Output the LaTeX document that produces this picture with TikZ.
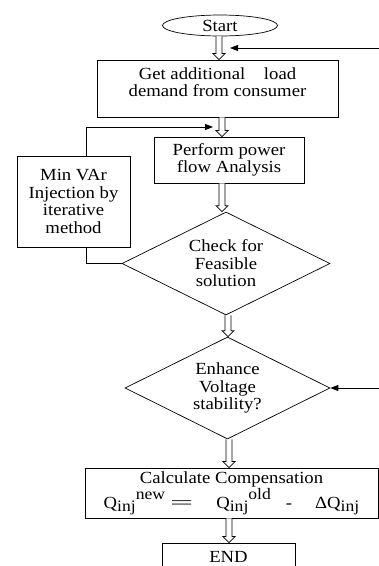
\documentclass[tikz,border=0pt]{standalone}
\usepackage{graphicx}
\usepackage{fontspec}
\setmainfont[FakeStretch=1.1]{Liberation Serif}
\usetikzlibrary{shapes.geometric,arrows.meta,calc}
\newcommand{\harrow}[3]{%
  \draw[hollowarr] let \p1=(#2), \p2=(#3) in
  (#1pt-3pt,\y1) -- (#1pt-3pt,\y2+6pt) -- (#1pt-6pt,\y2+6pt) -- (#1pt,\y2)
  -- (#1pt+6pt,\y2+6pt) -- (#1pt+3pt,\y2+6pt) -- (#1pt+3pt,\y1);}
\newcommand{\lowtx}[1]{\raisebox{-3pt}{\fontsize{16}{16}\selectfont #1}}
\newcommand{\hightx}[1]{\raisebox{9pt}{\fontsize{16}{16}\selectfont #1}}
\begin{document}
\begin{tikzpicture}[x=1pt,y=-1pt,
  every node/.style={font=\fontsize{17}{17.5}\selectfont, align=center, inner sep=0pt},
  box/.style={draw, line width=0.9pt},
  dia/.style={diamond, aspect=2, draw, line width=0.7pt, minimum width=208pt, minimum height=103pt},
  hollowarr/.style={draw, fill=white, line width=0.7pt, line join=miter},
  conn/.style={line width=0.9pt},
  arr/.style={conn, -{Triangle[length=8pt,width=6pt]}}]
\useasboundingbox (0,0) rectangle (379,566);
\fill[white] (0,0) rectangle (379,566);

\node[ellipse, draw, line width=0.7pt, minimum width=115pt, minimum height=21pt] (start) at (220,25.5) {Start};
\node[box, minimum width=241pt, minimum height=57pt, text depth=13pt] (getload) at (217.5,88.5)
  {\fontsize{17}{19}\selectfont Get additional\hspace{1.1em}load\\demand from consumer};
\node[box, minimum width=150pt, minimum height=46pt] (flow) at (229,160) {Perform power\\flow Analysis};
\node[box, minimum width=113pt, minimum height=91pt] (minvar) at (73.5,201.5) {Min VAr\\Injection by\\iterative\\method};
\node[dia] (check) at (226,263.5) {\fontsize{17}{15}\selectfont Check for\\Feasible\\solution};
\node[dia, minimum width=205pt, minimum height=102pt] (enh) at (227.5,388) {\fontsize{17}{16}\selectfont Enhance\\Voltage\\stability?};
\node[box, minimum width=293pt, minimum height=50pt] (calc) at (231.5,493)
  {\fontsize{17}{28}\selectfont Calculate Compensation\\
   Q\lowtx{inj}\hightx{new}\hspace{5pt}\scalebox{2.2}[1]{=}\hspace{23pt}Q\lowtx{inj}\hightx{old}\hspace{15pt}-\hspace{23pt}ΔQ\lowtx{inj}};
\node[box, minimum width=133pt, minimum height=28pt] (end) at (228.5,557) {END};

% hollow flow arrows
\harrow{219}{start.south}{getload.north}
\harrow{222}{getload.south}{flow.north}
\harrow{222}{flow.south}{check.north}
\harrow{228}{check.south}{enh.north}
\harrow{229}{enh.south}{calc.north}
\harrow{229}{calc.south}{end.north}

% feedback lines
\coordinate (rin1) at (379,48);
\coordinate (tip1) at (230,48);
\draw[arr] (rin1) -- (tip1);
\coordinate (tip2) at (213,127);
\draw[arr] ($(minvar.north)+(12.5,0)$) |- (tip2);
\draw[conn] ($(minvar.south)+(12.5,0)$) |- (check.west);
\coordinate (rin2) at (379,388);
\draw[arr] (rin2) -- (enh.east);
\end{tikzpicture}
\end{document}
